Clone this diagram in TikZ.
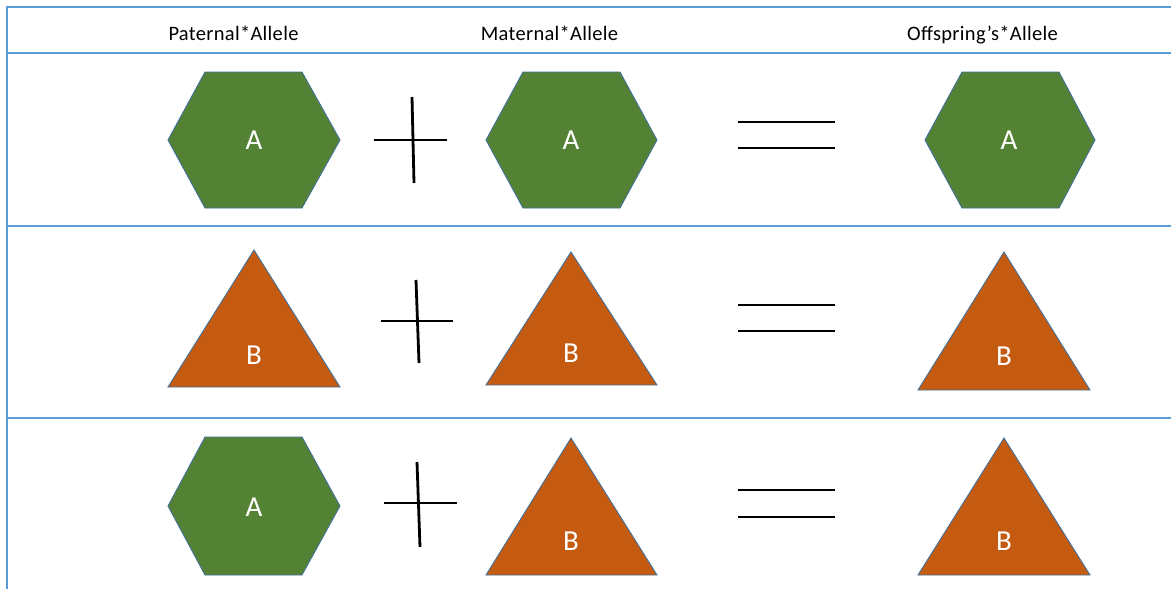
\documentclass[tikz,border=0pt]{standalone}
\usepackage{fontspec}
\setmainfont{Carlito}
\definecolor{grid}{HTML}{5B9BD5}
\definecolor{hexgreen}{HTML}{548235}
\definecolor{triorange}{HTML}{C55A11}
\definecolor{edge}{HTML}{41719C}
\begin{document}
\begin{tikzpicture}[x=1pt,y=-1pt,
  gridline/.style={draw=grid,line width=1.3pt},
  shapefill/.style={fill=#1,draw=edge,line width=0.9pt,line join=miter},
  op/.style={draw=black,line width=2.8pt},
  head/.style={font=\fontsize{20.5}{22}\selectfont\addfontfeature{LetterSpace=1.5},text=black,inner sep=0pt,anchor=base},
  lab/.style={font=\fontsize{29}{31}\selectfont,text=white,inner sep=0pt}]
\useasboundingbox (0,0) rectangle (1171,589);
% table lines
\draw[gridline] (7,589) -- (7,7) -- (1171,7);
\draw[gridline] (7,53) -- (1171,53);
\draw[gridline] (7,226) -- (1171,226);
\draw[gridline] (7,418) -- (1171,418);
% headers
\node[head] (h1) at (233.5,40) {Paternal*Allele};
\node[head] (h2) at (549.5,40) {Maternal*Allele};
\node[head] (h3) at (982.5,40) {Offspring’s*Allele};
% row 1
\path[shapefill=hexgreen] (168,140) -- (205,72) -- (302,72) -- (340,140) -- (302,208) -- (205,208) -- cycle;
\path[shapefill=hexgreen] (486,140) -- (523,72) -- (620,72) -- (657,140) -- (620,208) -- (523,208) -- cycle;
\path[shapefill=hexgreen] (925,140) -- (962,72) -- (1059,72) -- (1095,140) -- (1059,208) -- (962,208) -- cycle;
\node[lab] (a11) at (254,140) {A};
\node[lab] (a12) at (571,140) {A};
\node[lab] (a13) at (1009,140) {A};
\draw[op] (374,140) -- (447,140);
\draw[op] (412,97) -- (414,183);
\draw[op] (738,122) -- (835,122);
\draw[op] (738,148) -- (835,148);
% row 2
\path[shapefill=triorange] (254,250) -- (340,387) -- (168,387) -- cycle;
\path[shapefill=triorange] (571,252) -- (657,385) -- (486,385) -- cycle;
\path[shapefill=triorange] (1004,252) -- (1090,390) -- (918,390) -- cycle;
\node[lab] (b21) at (254,355) {B};
\node[lab] (b22) at (571,353) {B};
\node[lab] (b23) at (1004,356) {B};
\draw[op] (381,321) -- (453,321);
\draw[op] (416,280) -- (419,363);
\draw[op] (738,305) -- (835,305);
\draw[op] (738,331) -- (835,331);
% row 3
\path[shapefill=hexgreen] (168,506) -- (205,437) -- (302,437) -- (340,506) -- (302,575) -- (205,575) -- cycle;
\path[shapefill=triorange] (571,438) -- (657,575) -- (486,575) -- cycle;
\path[shapefill=triorange] (1004,438) -- (1090,575) -- (918,575) -- cycle;
\node[lab] (a31) at (254,507) {A};
\node[lab] (b32) at (571,541) {B};
\node[lab] (b33) at (1004,541) {B};
\draw[op] (384,503) -- (457,503);
\draw[op] (417,462) -- (420,547);
\draw[op] (738,490) -- (835,490);
\draw[op] (738,517) -- (835,517);
\end{tikzpicture}
\end{document}
